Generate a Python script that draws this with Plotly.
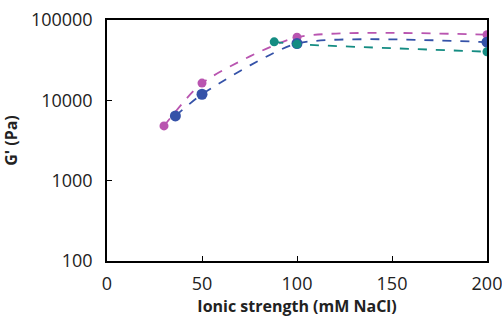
import plotly.graph_objects as go

# Storage modulus vs ionic strength for three formulations
x_mag = [30, 50, 100, 200]
g_mag = [4800, 16400, 61000, 65500]

x_blue = [36, 50, 100, 200]
g_blue = [6400, 11900, 51000, 53000]

x_teal = [88, 100, 200]
g_teal = [53500, 50000, 40300]

x_ticks = [0, 50, 100, 150, 200]
y_ticks = [100, 1000, 10000, 100000]

series = [
    (x_mag, g_mag, "#B955B0", 9),
    (x_blue, g_blue, "#3552A8", 11),
    (x_teal, g_teal, "#148C82", 9),
]

fig = go.Figure()
for xs, ys, col, sz in series:
    fig.add_trace(go.Scatter(
        x=xs, y=ys, mode="lines+markers",
        line=dict(color=col, width=1.8, dash="dash", shape="spline", smoothing=0.6),
        marker=dict(color=col, size=sz),
        showlegend=False,
    ))

font = dict(family="Open Sans, Liberation Sans, sans-serif", color="#222222", size=18)

fig.update_layout(
    width=502, height=321,
    margin=dict(l=107, r=15, t=20, b=60),
    plot_bgcolor="white", paper_bgcolor="white",
    font=font,
)
fig.update_xaxes(
    range=[0, 200], tickvals=x_ticks, ticktext=[str(v) for v in x_ticks],
    showline=True, linecolor="black", linewidth=1.5, mirror=True,
    ticks="inside", ticklen=5, tickcolor="black", showgrid=False, zeroline=False,
    automargin=False, ticklabelstandoff=6, ticklabeloverflow="allow",
    title=dict(text="<b>Ionic strength (mM NaCl)</b>", font=dict(size=16), standoff=4),
)
fig.update_yaxes(
    type="log", range=[2, 5], tickvals=y_ticks, ticktext=[str(v) for v in y_ticks],
    showline=True, linecolor="black", linewidth=1.5, mirror=True,
    ticks="inside", ticklen=5, tickcolor="black", showgrid=False, zeroline=False,
    automargin=False, ticklabelstandoff=9, ticklabeloverflow="allow",
    title=dict(text="<b>G' (Pa)</b>", font=dict(size=16), standoff=10),
)

fig.write_html("out.html")
